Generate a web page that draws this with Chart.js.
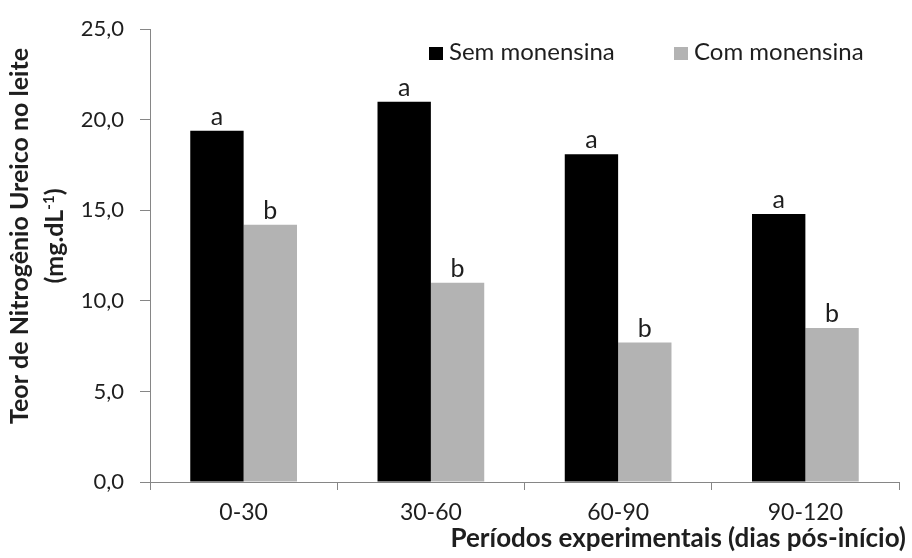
<!DOCTYPE html>
<html>
<head>
<meta charset="utf-8">
<script src="https://cdn.jsdelivr.net/npm/chart.js@4.4.1/dist/chart.umd.min.js"></script>
<style>
html,body{margin:0;padding:0;background:#fff;}
canvas{display:block;}
</style>
</head>
<body>
<canvas id="c" width="912" height="558"></canvas>
<script>
const categories = ['0-30', '30-60', '60-90', '90-120'];
const semMonensina = [19.4, 21.0, 18.1, 14.8];
const comMonensina = [14.2, 11.0, 7.7, 8.5];
const semLetters = ['a', 'a', 'a', 'a'];
const comLetters = ['b', 'b', 'b', 'b'];
const seriesNames = ['Sem monensina', 'Com monensina'];
const yTickLabels = ['0,0', '5,0', '10,0', '15,0', '20,0', '25,0'];
const yTitleLine1 = 'Teor de Nitrogênio Ureico no leite';
const yTitleLine2 = ['(mg.dL', '-1', ')'];
const xTitle = 'Períodos experimentais (dias pós-início)';

const FONT = 'Lato, "Open Sans", sans-serif';
const TEXT = '#1e1e1e';
const AXIS = '#868686';
const BLACK = '#000000';
const GRAY = '#b3b3b3';

const decorPlugin = {
  id: 'decor',
  afterDatasetsDraw(chart) {
    const ctx = chart.ctx;
    ctx.save();
    // letters above bars
    ctx.fillStyle = TEXT;
    ctx.font = '25px ' + FONT;
    ctx.textAlign = 'center';
    ctx.textBaseline = 'alphabetic';
    const letterSets = [semLetters, comLetters];
    chart.data.datasets.forEach((ds, di) => {
      const meta = chart.getDatasetMeta(di);
      meta.data.forEach((bar, i) => {
        ctx.fillText(letterSets[di][i], bar.x, bar.y - 6);
      });
    });
    // legend
    ctx.font = '24px ' + FONT;
    ctx.textAlign = 'left';
    const legendX = [429, 674];
    chart.data.datasets.forEach((ds, di) => {
      ctx.fillStyle = ds.backgroundColor;
      ctx.fillRect(legendX[di], 47, 14, 13);
      ctx.fillStyle = TEXT;
      ctx.fillText(ds.label, legendX[di] + 20, 60);
    });
    // y title
    const yc = 236;
    ctx.fillStyle = TEXT;
    ctx.save();
    ctx.translate(28, yc);
    ctx.rotate(-Math.PI / 2);
    ctx.font = 'bold 25px ' + FONT;
    ctx.textAlign = 'center';
    ctx.fillText(yTitleLine1, 0, 0);
    ctx.restore();
    ctx.save();
    ctx.translate(63, yc);
    ctx.rotate(-Math.PI / 2);
    ctx.textAlign = 'left';
    const bigF = 'bold 25px ' + FONT, smallF = 'bold 15px ' + FONT;
    ctx.font = bigF; const w1 = ctx.measureText(yTitleLine2[0]).width;
    ctx.font = smallF; const w2 = ctx.measureText(yTitleLine2[1]).width;
    ctx.font = bigF; const w3 = ctx.measureText(yTitleLine2[2]).width;
    let x0 = -(w1 + w2 + w3) / 2;
    ctx.font = bigF; ctx.fillText(yTitleLine2[0], x0, 0);
    ctx.font = smallF; ctx.fillText(yTitleLine2[1], x0 + w1, -9);
    ctx.font = bigF; ctx.fillText(yTitleLine2[2], x0 + w1 + w2, 0);
    ctx.restore();
    // x title
    ctx.font = 'bold 26px ' + FONT;
    ctx.textAlign = 'right';
    ctx.fillText(xTitle, 906, 547);
    ctx.restore();
  }
};

new Chart(document.getElementById('c'), {
  type: 'bar',
  data: {
    labels: categories,
    datasets: [
      { label: seriesNames[0], data: semMonensina, backgroundColor: BLACK, borderWidth: 0 },
      { label: seriesNames[1], data: comMonensina, backgroundColor: GRAY, borderWidth: 0 }
    ]
  },
  options: {
    responsive: false,
    animation: false,
    devicePixelRatio: 1,
    layout: { padding: { left: 0, right: 13, top: 24, bottom: 0 } },
    datasets: { bar: { categoryPercentage: 0.57, barPercentage: 1.0 } },
    plugins: { legend: { display: false }, tooltip: { enabled: false } },
    scales: {
      x: {
        afterFit(s) { s.height = 76; },
        grid: { offset: true, drawOnChartArea: false, tickLength: 8, color: AXIS, lineWidth: 1 },
        border: { display: true, color: AXIS, width: 1 },
        ticks: { color: TEXT, font: { family: FONT, size: 23 }, padding: 9, maxRotation: 0 }
      },
      y: {
        min: 0, max: 25,
        afterFit(s) { s.width = 150; },
        grid: { drawOnChartArea: false, tickLength: 10, color: AXIS, lineWidth: 1 },
        border: { display: true, color: AXIS, width: 1 },
        ticks: {
          stepSize: 5, color: TEXT, font: { family: FONT, size: 22 }, padding: 16,
          callback: (v, i) => yTickLabels[i]
        }
      }
    }
  },
  plugins: [decorPlugin]
});
</script>
</body>
</html>
